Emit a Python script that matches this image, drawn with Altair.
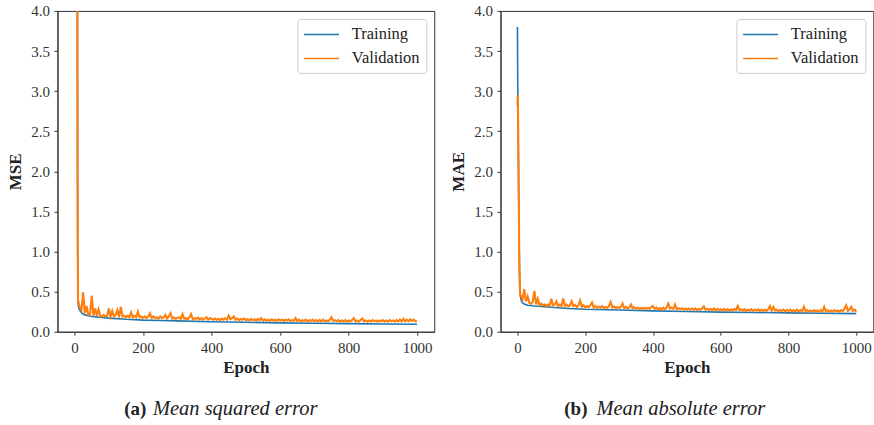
import altair as alt
import pandas as pd

# ---------------- data ----------------
mse_train_epoch = [0, 3, 6, 8, 9, 10, 12, 15, 20, 25, 30, 40, 50, 75, 100, 150, 200,
                   250, 300, 400, 500, 600, 700, 800, 900, 1000]
mse_train_value = [8.0, 6.0, 5.0, 4.3, 1.0, 0.36, 0.30, 0.27, 0.24, 0.22, 0.21, 0.20,
                   0.19, 0.18, 0.17, 0.155, 0.145, 0.14, 0.135, 0.125, 0.118, 0.111,
                   0.106, 0.101, 0.097, 0.094]

mse_val_epoch = [0, 3, 6, 8, 9] + list(range(10, 1001, 5))
mse_val_value = [
    9.0, 7.0, 5.5, 4.6, 1.3,
    0.40, 0.30, 0.27, 0.49, 0.23, 0.32, 0.21, 0.22, 0.45, 0.20,
    0.29, 0.20, 0.28, 0.20, 0.19, 0.21, 0.19, 0.20, 0.29, 0.19,
    0.26, 0.19, 0.21, 0.27, 0.18, 0.31, 0.19, 0.20, 0.18, 0.20,
    0.18, 0.24, 0.18, 0.20, 0.18, 0.25, 0.18, 0.19, 0.17, 0.19,
    0.17, 0.19, 0.23, 0.17, 0.19, 0.17, 0.18, 0.165, 0.19, 0.17,
    0.18, 0.21, 0.165, 0.19, 0.23, 0.165, 0.18, 0.16, 0.175, 0.18,
    0.16, 0.22, 0.16, 0.17, 0.155, 0.18, 0.22, 0.155, 0.17, 0.16,
    0.175, 0.155, 0.17, 0.15, 0.165, 0.18, 0.15, 0.17, 0.16, 0.15,
    0.165, 0.15, 0.16, 0.145, 0.165, 0.15, 0.17, 0.15, 0.20, 0.155,
    0.17, 0.19, 0.15, 0.165, 0.145, 0.16, 0.15, 0.165, 0.145, 0.155,
    0.14, 0.16, 0.145, 0.155, 0.14, 0.16, 0.145, 0.17, 0.14, 0.155,
    0.14, 0.15, 0.135, 0.155, 0.14, 0.15, 0.135, 0.155, 0.14, 0.15,
    0.135, 0.15, 0.14, 0.155, 0.135, 0.145, 0.135, 0.17, 0.135, 0.15,
    0.13, 0.145, 0.135, 0.15, 0.13, 0.145, 0.135, 0.15, 0.13, 0.145,
    0.13, 0.145, 0.13, 0.15, 0.13, 0.14, 0.13, 0.15, 0.18, 0.135,
    0.145, 0.13, 0.145, 0.125, 0.14, 0.13, 0.145, 0.125, 0.14, 0.13,
    0.145, 0.17, 0.13, 0.14, 0.125, 0.145, 0.165, 0.13, 0.14, 0.125,
    0.14, 0.125, 0.145, 0.13, 0.14, 0.125, 0.14, 0.13, 0.145, 0.125,
    0.14, 0.125, 0.145, 0.13, 0.14, 0.125, 0.145, 0.13, 0.15, 0.13,
    0.16, 0.13, 0.15, 0.13, 0.155, 0.135, 0.15, 0.13, 0.13,
]

mae_train_epoch = [0, 1, 2, 3, 4, 5, 6, 7, 8, 10, 12, 15, 20, 30, 50, 100, 150, 200,
                   300, 400, 500, 600, 700, 800, 900, 1000]
mae_train_value = [3.80, 3.00, 2.55, 2.05, 1.55, 1.10, 0.78, 0.58, 0.47, 0.41, 0.38,
                   0.36, 0.345, 0.33, 0.32, 0.305, 0.29, 0.28, 0.27, 0.26, 0.252,
                   0.245, 0.24, 0.235, 0.23, 0.226]

mae_val_epoch = [0, 1, 2, 3, 4, 5, 6, 7, 8] + list(range(10, 1001, 5))
mae_val_value = [
    2.82, 2.95, 2.6, 2.1, 1.6, 1.1, 0.75, 0.55, 0.45,
    0.45, 0.40, 0.53, 0.38, 0.44, 0.36, 0.35, 0.37, 0.51, 0.34,
    0.41, 0.33, 0.35, 0.33, 0.34, 0.32, 0.34, 0.32, 0.41, 0.33,
    0.34, 0.38, 0.32, 0.34, 0.32, 0.415, 0.32, 0.34, 0.315, 0.33,
    0.38, 0.32, 0.335, 0.31, 0.33, 0.39, 0.31, 0.33, 0.305, 0.32,
    0.305, 0.33, 0.365, 0.30, 0.32, 0.30, 0.315, 0.30, 0.32, 0.295,
    0.31, 0.30, 0.32, 0.37, 0.30, 0.315, 0.295, 0.31, 0.295, 0.31,
    0.35, 0.295, 0.31, 0.29, 0.305, 0.34, 0.29, 0.305, 0.29, 0.30,
    0.285, 0.30, 0.285, 0.30, 0.285, 0.30, 0.285, 0.31, 0.32, 0.285,
    0.30, 0.28, 0.295, 0.28, 0.30, 0.28, 0.30, 0.35, 0.29, 0.30,
    0.285, 0.34, 0.28, 0.295, 0.28, 0.295, 0.275, 0.29, 0.275, 0.29,
    0.275, 0.29, 0.275, 0.29, 0.27, 0.285, 0.275, 0.29, 0.315, 0.275,
    0.285, 0.27, 0.285, 0.27, 0.29, 0.27, 0.285, 0.27, 0.28, 0.265,
    0.285, 0.265, 0.28, 0.265, 0.28, 0.265, 0.285, 0.27, 0.32, 0.27,
    0.28, 0.265, 0.28, 0.26, 0.275, 0.265, 0.28, 0.26, 0.275, 0.265,
    0.28, 0.26, 0.275, 0.26, 0.275, 0.26, 0.28, 0.32, 0.265, 0.31,
    0.265, 0.275, 0.255, 0.27, 0.26, 0.275, 0.255, 0.27, 0.26, 0.275,
    0.255, 0.27, 0.255, 0.275, 0.255, 0.27, 0.255, 0.31, 0.26, 0.27,
    0.25, 0.265, 0.25, 0.27, 0.255, 0.265, 0.25, 0.27, 0.255, 0.31,
    0.255, 0.27, 0.25, 0.265, 0.25, 0.27, 0.255, 0.265, 0.25, 0.27,
    0.255, 0.29, 0.33, 0.26, 0.28, 0.31, 0.26, 0.275, 0.25,
]

series_names = ["Training", "Validation"]
series_colors = ["#1f77b4", "#ff7f0e"]
x_ticks = [0, 200, 400, 600, 800, 1000]
y_ticks = [0.0, 0.5, 1.0, 1.5, 2.0, 2.5, 3.0, 3.5, 4.0]

SERIF = "Liberation Serif"
PH = 321


def make_df(e, v, name):
    return pd.DataFrame({"epoch": e, "value": v, "series": name})


def panel(df_t, df_v, ytitle, cap_bold, cap_ital, bx, ix, pw):
    xenc = alt.X("epoch:Q",
                 scale=alt.Scale(domain=[-50, 1050], nice=False, zero=False),
                 axis=alt.Axis(values=x_ticks, title="Epoch", format="d"))
    yenc = alt.Y("value:Q",
                 scale=alt.Scale(domain=[0, 4], nice=False),
                 axis=alt.Axis(values=y_ticks, title=ytitle, format=".1f"))
    cenc = alt.Color("series:N",
                     scale=alt.Scale(domain=series_names, range=series_colors),
                     legend=alt.Legend(
                         title=None, orient="top-right", offset=8,
                         symbolType="M-1,0H3", symbolSize=306.25,
                         symbolStrokeWidth=1.5,
                         labelFont=SERIF, labelFontSize=16.5,
                         labelColor="#222", labelOffset=29.5,
                         padding=6, rowPadding=6,
                         strokeColor="#cccccc", fillColor="rgba(255,255,255,0.8)",
                         cornerRadius=3))
    tr = alt.Chart(df_t).mark_line(clip=True, strokeWidth=1.6).encode(
        x=xenc, y=yenc, color=cenc)
    va = alt.Chart(df_v).mark_line(clip=True, strokeWidth=2.1).encode(
        x=xenc, y=yenc, color=cenc)
    capb = alt.Chart(pd.DataFrame({"t": [cap_bold]})).mark_text(
        font=SERIF, fontSize=19, fontWeight="bold", align="right",
        baseline="middle", color="#222"
    ).encode(text="t:N", x=alt.value(bx), y=alt.value(398))
    capi = alt.Chart(pd.DataFrame({"t": [cap_ital]})).mark_text(
        font=SERIF, fontSize=20.5, fontStyle="italic", align="left",
        baseline="middle", color="#222"
    ).encode(text="t:N", x=alt.value(ix), y=alt.value(398))
    return alt.layer(tr, va, capb, capi).properties(width=pw, height=PH)


left = panel(make_df(mse_train_epoch, mse_train_value, "Training"),
             make_df(mse_val_epoch, mse_val_value, "Validation"),
             "MSE", "(a)", "Mean squared error", 89, 95.5, 377)
right = panel(make_df(mae_train_epoch, mae_train_value, "Training"),
              make_df(mae_val_epoch, mae_val_value, "Validation"),
              "MAE", "(b)", "Mean absolute error", 87, 96, 373)

chart = alt.hconcat(left, right, spacing=13.3).resolve_scale(
    color="independent").resolve_legend(color="independent").properties(
    padding={"left": 5.5, "top": 2.8, "right": 0, "bottom": 0}
).configure_axis(
    grid=False, labelFont=SERIF, labelFontSize=15, labelColor="#333",
    titleFont=SERIF, titleFontSize=17, titleFontWeight="bold", titleColor="#222",
    tickSize=3.5, tickColor="#333", domainColor="#333", tickWidth=1,
).configure_axisX(labelPadding=5.5, titlePadding=3.5).configure_axisY(
    labelPadding=4.5, titlePadding=6.5
).configure_view(stroke="#333", strokeWidth=1)

chart.save("out.html", embed_options={"renderer": "svg", "actions": False})
